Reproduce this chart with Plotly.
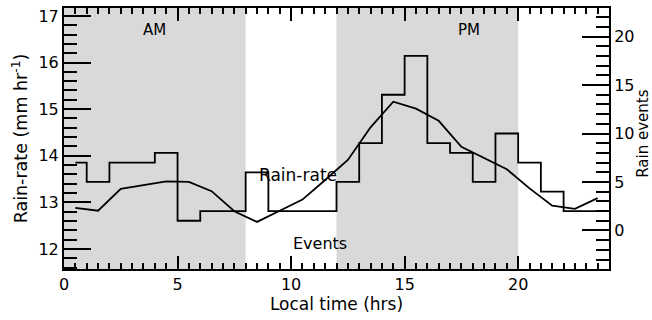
import plotly.graph_objects as go

# Hour-of-day bin centres (local time)
hours = [h + 0.5 for h in range(24)]

# Mean rain-rate per hour (mm/hr), left axis
rain_rate = [12.88, 12.82, 13.29, 13.37, 13.45, 13.44, 13.24, 12.81,
             12.58, 12.82, 13.06, 13.48, 13.91, 14.61, 15.16, 15.01,
             14.75, 14.19, 13.95, 13.71, 13.30, 12.93, 12.86, 13.09]

# Number of rain events per hour, right axis
events = [7, 5, 7, 7, 8, 1, 2, 2, 6, 2, 2, 2,
          5, 9, 14, 18, 9, 8, 5, 10, 7, 4, 2, 2]

# Shaded periods (start, end) in hours
shaded = [(0, 8), (12, 20)]

FONT = "DejaVu Sans"
BLACK = "#000000"
SHADE = "#d9d9d9"

fig = go.Figure()

fig.add_trace(go.Scatter(
    x=hours, y=rain_rate, mode="lines",
    line=dict(color=BLACK, width=1.8),
    yaxis="y", showlegend=False, hoverinfo="skip",
))

fig.add_trace(go.Scatter(
    x=hours, y=events, mode="lines",
    line=dict(color=BLACK, width=1.8, shape="hvh"),
    yaxis="y2", showlegend=False, hoverinfo="skip",
))

for x0, x1 in shaded:
    fig.add_shape(type="rect", xref="x", yref="paper",
                  x0=x0, x1=x1, y0=0, y1=1,
                  fillcolor=SHADE, line=dict(width=0), layer="below")

annotations = [
    dict(text="AM", x=4.0, y=16.70, xref="x", yref="y", xanchor="center", size=15),
    dict(text="PM", x=17.85, y=16.70, xref="x", yref="y", xanchor="center", size=15),
    dict(text="Rain-rate", x=8.5, y=13.59, xref="x", yref="y", xanchor="left", size=17),
    dict(text="Events", x=10.0, y=-1.3, xref="x", yref="y2", xanchor="left", size=16),
    # right-hand axis title, set just outside the tick labels
    dict(text="Rain events", x=1.061, y=10.0, xref="paper", yref="y2",
         xanchor="center", textangle=-90, size=15),
]
for a in annotations:
    size = a.pop("size")
    a.update(showarrow=False, yanchor="middle",
             font=dict(family=FONT, size=size, color=BLACK))
fig.update_layout(annotations=annotations)

axis_common = dict(
    showgrid=False, zeroline=False, showline=True, automargin=False,
    linecolor=BLACK, linewidth=2, ticks="inside",
    tickcolor=BLACK, tickwidth=1.5,
    tickfont=dict(family=FONT, size=16, color=BLACK),
)

fig.update_layout(
    width=652, height=320,
    margin=dict(l=64, r=43, t=8, b=51),
    plot_bgcolor="white", paper_bgcolor="white",
    xaxis=dict(
        **axis_common,
        range=[0, 24], dtick=5, tick0=0, ticklen=13, mirror="ticks",
        minor=dict(dtick=0.5, ticklen=6, ticks="inside", tickcolor=BLACK, tickwidth=1.5),
        title=dict(text="Local time (hrs)", standoff=4,
                   font=dict(family=FONT, size=17, color=BLACK)),
    ),
    yaxis=dict(
        **axis_common,
        range=[11.57, 17.17], dtick=1, tick0=0, ticklen=27,
        minor=dict(dtick=0.2, ticklen=13, ticks="inside", tickcolor=BLACK, tickwidth=1.5),
        title=dict(text="Rain-rate (mm hr<sup>-1</sup>)", standoff=6,
                   font=dict(family=FONT, size=17.5, color=BLACK)),
    ),
    yaxis2=dict(
        **axis_common,
        overlaying="y", side="right",
        range=[-3.98, 22.95], dtick=5, tick0=0, ticklen=27,
        minor=dict(dtick=1, ticklen=13, ticks="inside", tickcolor=BLACK, tickwidth=1.5),
    ),
)

fig.write_html("out.html")
